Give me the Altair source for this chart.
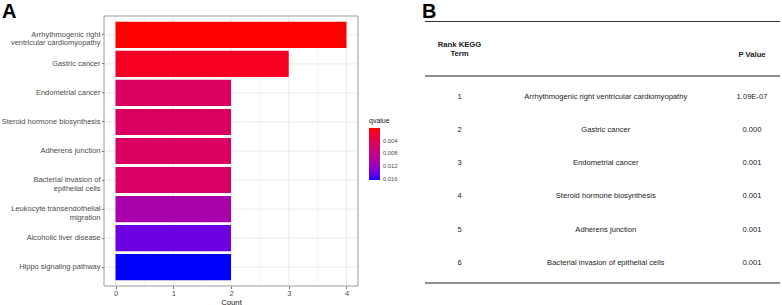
import altair as alt
import pandas as pd

FONT = "Liberation Sans"

# ---------------- data ----------------
terms = [
    "Arrhythmogenic right ventricular cardiomyopathy",
    "Gastric cancer",
    "Endometrial cancer",
    "Steroid hormone biosynthesis",
    "Adherens junction",
    "Bacterial invasion of epithelial cells",
    "Leukocyte transendothelial migration",
    "Alcoholic liver disease",
    "Hippo signaling pathway",
]
term_labels = [
    "Arrhythmogenic right\nventricular cardiomyopathy",
    "Gastric cancer",
    "Endometrial cancer",
    "Steroid hormone biosynthesis",
    "Adherens junction",
    "Bacterial invasion of\nepithelial cells",
    "Leukocyte transendothelial\nmigration",
    "Alcoholic liver disease",
    "Hippo signaling pathway",
]
counts = [4, 3, 2, 2, 2, 2, 2, 2, 2]
qvalues = [0.000014, 0.0013, 0.0054, 0.0054, 0.0054, 0.0055, 0.0106, 0.0143, 0.0164]

count_ticks = [0, 1, 2, 3, 4]
count_minor = [0.5, 1.5, 2.5, 3.5]
legend_ticks = [0.004, 0.008, 0.012, 0.016]

table_rank = [1, 2, 3, 4, 5, 6]
table_terms = terms[:6]
table_p = ["1.09E-07", "0.000", "0.001", "0.001", "0.001", "0.001"]
rank_header = "Rank KEGG\nTerm"
p_header = "P Value"

# ---------------- panel A ----------------
bar_df = pd.DataFrame({"term": terms, "label": term_labels, "count": counts, "qvalue": qvalues})

x_scale = alt.Scale(domain=[-0.2, 4.2], range=[104, 358], nice=False, zero=False)
y_scale = alt.Scale(domain=term_labels, range=[16, 286], paddingInner=0.1, paddingOuter=0.2)

x_axis = alt.Axis(
    orient="bottom", offset=-19, values=count_ticks, format="d", grid=False, domain=False,
    title="Count", titleFont=FONT, titleFontSize=7.7, titleFontWeight="normal",
    titleColor="#1a1a1a", titlePadding=1,
    labelFont=FONT, labelFontSize=7.5, labelColor="#4D4D4D", labelPadding=1,
    tickColor="#4D4D4D", tickSize=2.5, tickWidth=0.8,
)
y_axis = alt.Axis(
    orient="left", offset=-104, grid=False, domain=False, title=None,
    labelFont=FONT, labelFontSize=7.5, labelColor="#4D4D4D", labelPadding=1.5,
    labelExpr="split(datum.label, '\\n')", labelLineHeight=8.5, labelLimit=0,
    tickColor="#4D4D4D", tickSize=2.5, tickWidth=0.8,
)

vgrid_major = alt.Chart(pd.DataFrame({"count": count_ticks})).mark_rule(
    color="#E8E8E8", strokeWidth=0.9
).encode(x=alt.X("count:Q", scale=x_scale, axis=x_axis), y=alt.value(16), y2=alt.value(286))

vgrid_minor = alt.Chart(pd.DataFrame({"count": count_minor})).mark_rule(
    color="#F2F2F2", strokeWidth=0.6
).encode(x=alt.X("count:Q", scale=x_scale, axis=x_axis), y=alt.value(16), y2=alt.value(286))

hgrid = alt.Chart(bar_df).mark_rule(color="#E8E8E8", strokeWidth=0.9).encode(
    y=alt.Y("label:N", scale=y_scale, axis=y_axis, sort=None),
    x=alt.datum(-0.2),
    x2=alt.datum(4.2),
)

bars = alt.Chart(bar_df).mark_bar().encode(
    y=alt.Y("label:N", scale=y_scale, axis=y_axis, sort=None),
    x=alt.X("count:Q", scale=x_scale, axis=x_axis),
    color=alt.Color(
        "qvalue:Q",
        scale=alt.Scale(domain=[0.0164, 0.000014], range=["blue", "red"],
                        interpolate="lab", zero=False, nice=False),
        legend=alt.Legend(
            orient="none", legendX=369, legendY=117, direction="vertical",
            title="qvalue", titleFont=FONT, titleFontSize=7, titleFontWeight="normal",
            titleColor="#1a1a1a", titlePadding=4,
            gradientLength=52, gradientThickness=11, gradientStrokeWidth=0,
            values=legend_ticks, format=".3f", labelOverlap=False,
            labelFont=FONT, labelFontSize=5.8, labelColor="#4D4D4D", labelOffset=3,
        ),
    ),
)

frame = alt.Chart(pd.DataFrame({"p": ["A"]})).mark_rect(
    filled=False, stroke="#9A9A9A", strokeWidth=1
).encode(x=alt.datum(-0.2), x2=alt.datum(4.2), y=alt.value(16), y2=alt.value(286))

label_a = alt.Chart(pd.DataFrame({"t": ["A"]})).mark_text(
    font=FONT, fontSize=20, fontWeight="bold", align="left", baseline="top", color="black"
).encode(text="t:N", x=alt.value(2), y=alt.value(2))

panel_a = alt.layer(vgrid_minor, vgrid_major, hgrid, bars, frame, label_a)

# ---------------- panel B ----------------
rows = []
for r, t, p in zip(table_rank, table_terms, table_p):
    rows.append({"rank": r, "col": "rank", "text": str(r)})
    rows.append({"rank": r, "col": "term", "text": t})
    rows.append({"rank": r, "col": "p", "text": p})
tbl = pd.DataFrame(rows)

col_scale = alt.Scale(type="point", domain=["rank", "term", "p"], range=[459.5, 752], padding=0)
row_scale = alt.Scale(domain=[1, 6], range=[96.5, 263], nice=False, zero=False)

body = alt.Chart(tbl).mark_text(font=FONT, fontSize=7.6, color="#222222").encode(
    x=alt.X("col:N", scale=col_scale, axis=None),
    y=alt.Y("rank:Q", scale=row_scale, axis=None),
    text="text:N",
)

header_rank = alt.Chart(pd.DataFrame({"col": ["rank"], "text": [rank_header]})).mark_text(
    font=FONT, fontSize=7.7, fontWeight="bold", color="#1a1a1a",
    lineBreak="\n", lineHeight=9, baseline="middle",
).encode(
    x=alt.X("col:N", scale=col_scale, axis=None),
    y=alt.value(45),
    text="text:N",
)

header_p = alt.Chart(pd.DataFrame({"col": ["p"], "text": [p_header]})).mark_text(
    font=FONT, fontSize=7.7, fontWeight="bold", color="#1a1a1a", baseline="middle",
).encode(
    x=alt.X("col:N", scale=col_scale, axis=None),
    y=alt.value(55),
    text="text:N",
)

def hline(yv, color, w):
    return alt.Chart(pd.DataFrame({"k": [0]})).mark_rule(color=color, strokeWidth=w).encode(
        x=alt.value(425), x2=alt.value(780), y=alt.value(yv)
    )

lines = [hline(21.5, "#333333", 1.1), hline(76, "#6a6a6a", 1.5), hline(283, "#6a6a6a", 1.5)]

label_b = alt.Chart(pd.DataFrame({"t": ["B"]})).mark_text(
    font=FONT, fontSize=20, fontWeight="bold", align="left", baseline="top", color="black"
).encode(text="t:N", x=alt.value(422), y=alt.value(2))

panel_b = alt.layer(body, header_rank, header_p, *lines, label_b)

chart = alt.layer(panel_a, panel_b).resolve_scale(
    x="independent", y="independent"
).properties(
    width=782, height=305, padding=0,
    autosize=alt.AutoSizeParams(type="none"),
).configure_view(stroke=None)

chart.save("out.html", embed_options={"renderer": "svg", "actions": False})
